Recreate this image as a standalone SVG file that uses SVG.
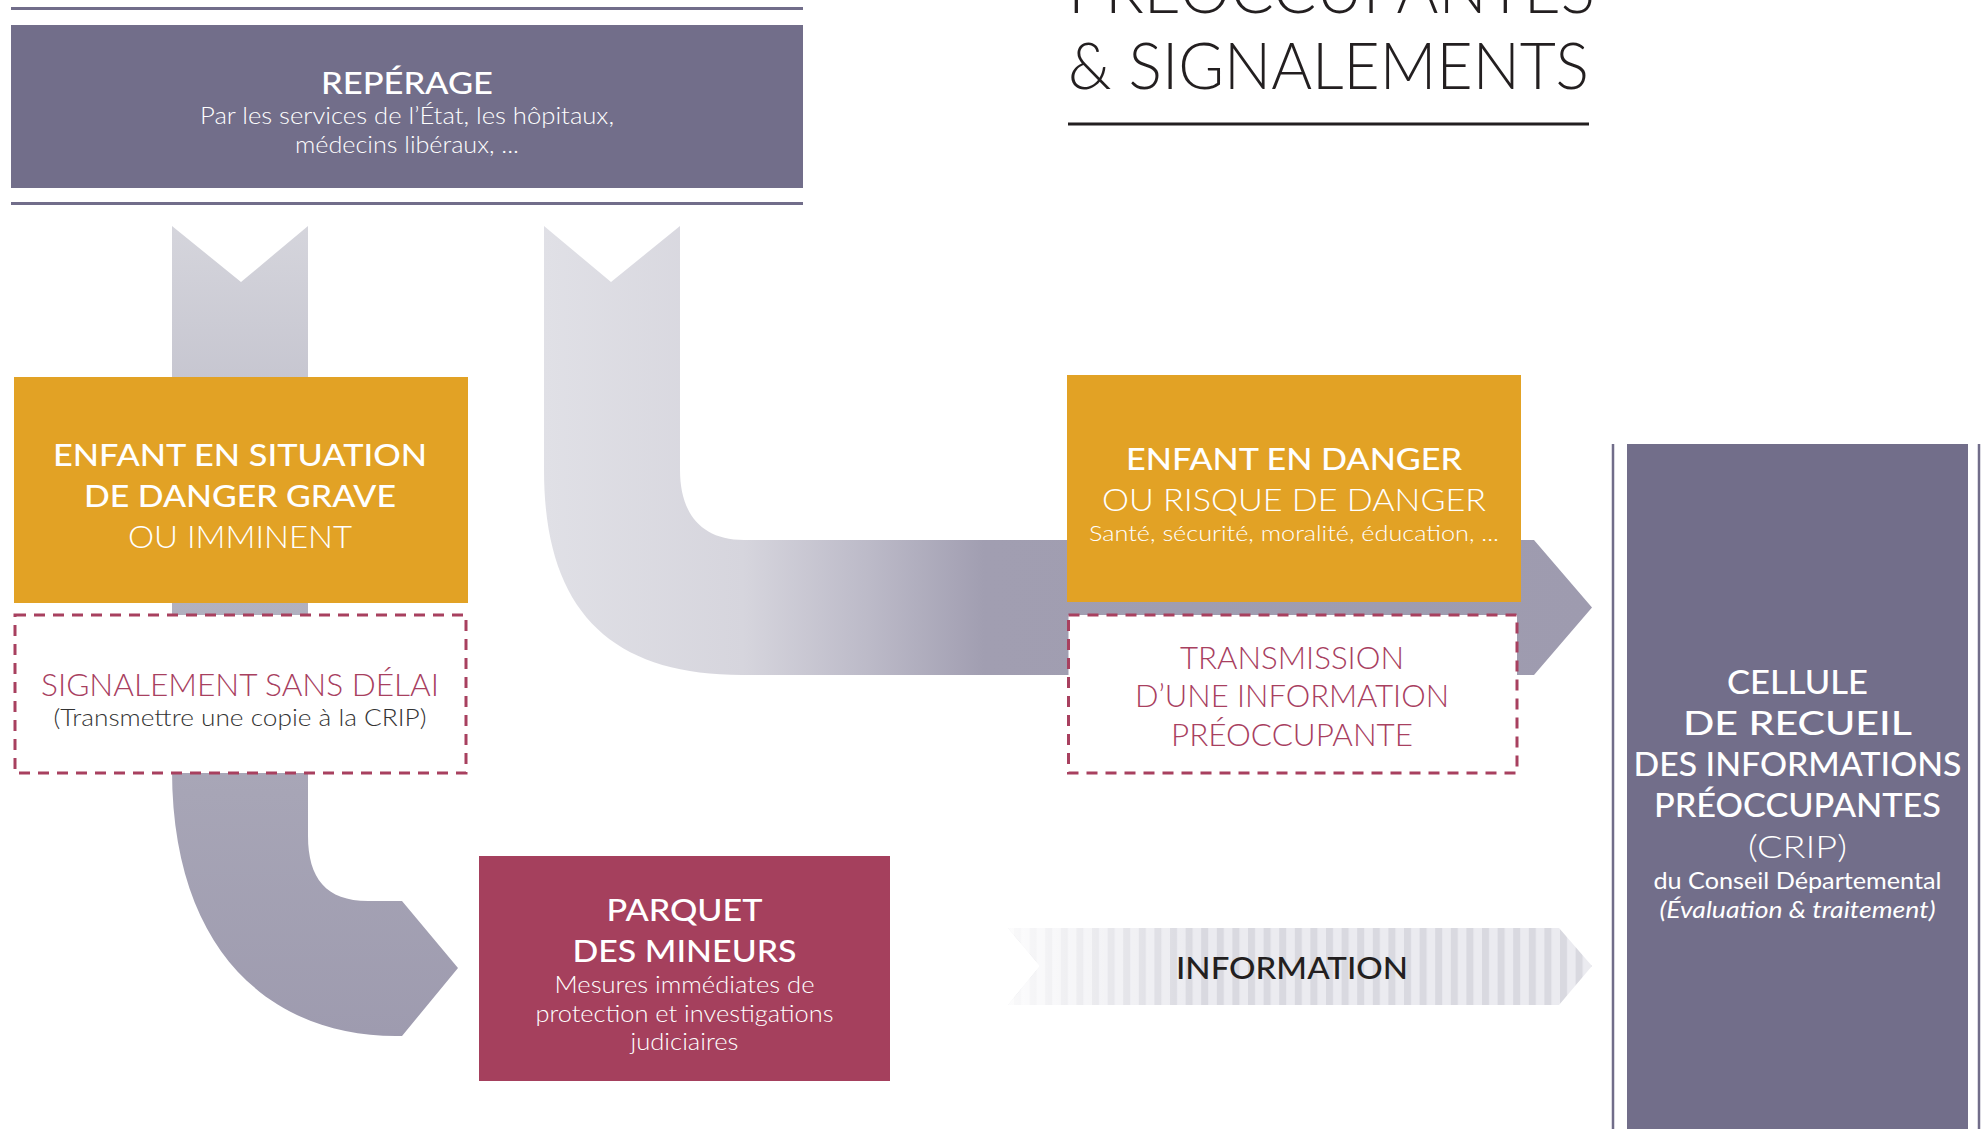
<svg xmlns="http://www.w3.org/2000/svg" width="1988" height="1129" viewBox="0 0 1988 1129">
<defs>
<style>
.t{font-family:Lato,"Liberation Sans",sans-serif;text-anchor:middle}
.w{fill:#fff}
.b{font-weight:500}
.m{font-weight:500}
.l{font-weight:300}
.r{fill:#a8405f}
.h31{font-size:31px}
.h23{font-size:23px}
.dash{fill:#fff;stroke:#a8405f;stroke-width:3;stroke-dasharray:11 8}
.rule{stroke:#716d8a;stroke-width:3}
</style>
<linearGradient id="gLeft" gradientUnits="userSpaceOnUse" x1="0" y1="226" x2="0" y2="1036">
<stop offset="0" stop-color="#d5d5dc"/>
<stop offset="0.46" stop-color="#b2b1c0"/>
<stop offset="0.7" stop-color="#a7a5b6"/>
<stop offset="1" stop-color="#9e9baf"/>
</linearGradient>
<linearGradient id="gMid" gradientUnits="userSpaceOnUse" x1="544" y1="0" x2="1592" y2="0">
<stop offset="0" stop-color="#e0e0e6"/>
<stop offset="0.19" stop-color="#d6d5dd"/>
<stop offset="0.31" stop-color="#bcbac8"/>
<stop offset="0.42" stop-color="#a19eb1"/>
<stop offset="1" stop-color="#9e9baf"/>
</linearGradient>
<pattern id="stripes" patternUnits="userSpaceOnUse" x="0" y="0" width="15.6" height="10">
<rect width="15.6" height="10" fill="#ebebf0"/>
<rect width="7" height="10" fill="#d9d9e0"/>
</pattern>
<linearGradient id="fade" gradientUnits="userSpaceOnUse" x1="1008" y1="0" x2="1200" y2="0">
<stop offset="0" stop-color="#fff" stop-opacity="0.85"/>
<stop offset="1" stop-color="#fff" stop-opacity="0"/>
</linearGradient>
</defs>
<rect width="1988" height="1129" fill="#fff"/>

<g id="title">
<text class="t l" x="1068" y="13" font-size="66" fill="#231f20" style="text-anchor:start" textLength="527" lengthAdjust="spacingAndGlyphs">PRÉOCCUPANTES</text>
<text class="t l" x="1068" y="89" font-size="66" fill="#231f20" style="text-anchor:start" textLength="521" lengthAdjust="spacingAndGlyphs">&amp; SIGNALEMENTS</text>
<line x1="1068" y1="124" x2="1589" y2="124" stroke="#231f20" stroke-width="3"/>
</g>

<g id="connectors">
<path id="arrow-left" fill="url(#gLeft)" d="M172,226 L241,282 L308,226 L308,836 C308,878 326,901 368,901 L402,901 L458,968 L402,1036 L396,1036 C270,1036 172,950 172,770 Z"/>
<path id="arrow-mid" fill="url(#gMid)" d="M544,226 L611,282 L680,226 L680,470 C680,512 700,540 744,540 L1534,540 L1592,607.5 L1534,675 L742,675 C610,675 544,610 544,470 Z"/>
<g id="arrow-information">
<path fill="url(#stripes)" d="M1008,928 L1559,928 L1592,966 L1559,1005 L1008,1005 L1040,966 Z"/>
<path fill="url(#fade)" d="M1008,928 L1559,928 L1592,966 L1559,1005 L1008,1005 L1040,966 Z"/>
<text class="t m h31" x="1292" y="979" fill="#231f20" textLength="232" lengthAdjust="spacingAndGlyphs">INFORMATION</text>
</g>
</g>

<g id="reperage">
<line class="rule" x1="11" y1="8.5" x2="803" y2="8.5"/>
<rect x="11" y="25" width="792" height="163" fill="#726e8a"/>
<line class="rule" x1="11" y1="203.5" x2="803" y2="203.5"/>
<text class="t w m h31" x="407" y="94" textLength="172" lengthAdjust="spacingAndGlyphs">REPÉRAGE</text>
<text class="t w l h23" x="407" y="124" textLength="414" lengthAdjust="spacingAndGlyphs">Par les services de l’État, les hôpitaux,</text>
<text class="t w l h23" x="407" y="153" textLength="224" lengthAdjust="spacingAndGlyphs">médecins libéraux, ...</text>
</g>

<g id="danger-grave">
<rect x="14" y="377" width="454" height="226" fill="#e2a225"/>
<text class="t w b h31" x="240" y="466" textLength="374" lengthAdjust="spacingAndGlyphs">ENFANT EN SITUATION</text>
<text class="t w b h31" x="240" y="507" textLength="312" lengthAdjust="spacingAndGlyphs">DE DANGER GRAVE</text>
<text class="t w l h31" x="240" y="548" textLength="224" lengthAdjust="spacingAndGlyphs">OU IMMINENT</text>
</g>

<g id="signalement">
<rect class="dash" x="15" y="615" width="451" height="158"/>
<text class="t r l h31" x="240" y="696" textLength="398" lengthAdjust="spacingAndGlyphs">SIGNALEMENT SANS DÉLAI</text>
<text class="t l h23" x="240" y="726" fill="#333" textLength="373" lengthAdjust="spacingAndGlyphs">(Transmettre une copie à la CRIP)</text>
</g>

<g id="parquet">
<rect x="479" y="856" width="411" height="225" fill="#a5405d"/>
<text class="t w b h31" x="684.5" y="921" textLength="156" lengthAdjust="spacingAndGlyphs">PARQUET</text>
<text class="t w b h31" x="684.5" y="962" textLength="224" lengthAdjust="spacingAndGlyphs">DES MINEURS</text>
<text class="t w l h23" x="684.5" y="993" textLength="260" lengthAdjust="spacingAndGlyphs">Mesures immédiates de</text>
<text class="t w l h23" x="684.5" y="1022" textLength="298" lengthAdjust="spacingAndGlyphs">protection et investigations</text>
<text class="t w l h23" x="684.5" y="1050" textLength="108" lengthAdjust="spacingAndGlyphs">judiciaires</text>
</g>

<g id="danger">
<rect x="1067" y="375" width="454" height="227" fill="#e2a225"/>
<text class="t w b h31" x="1294" y="470" textLength="336" lengthAdjust="spacingAndGlyphs">ENFANT EN DANGER</text>
<text class="t w l h31" x="1294" y="511" textLength="384" lengthAdjust="spacingAndGlyphs">OU RISQUE DE DANGER</text>
<text class="t w l" x="1294" y="541" font-size="22" textLength="410" lengthAdjust="spacingAndGlyphs">Santé, sécurité, moralité, éducation, ...</text>
</g>

<g id="transmission">
<rect class="dash" x="1068.5" y="615" width="448.5" height="158"/>
<text class="t r l h31" x="1292" y="669" textLength="224" lengthAdjust="spacingAndGlyphs">TRANSMISSION</text>
<text class="t r l h31" x="1292" y="707" textLength="314" lengthAdjust="spacingAndGlyphs">D’UNE INFORMATION</text>
<text class="t r l h31" x="1292" y="746" textLength="242" lengthAdjust="spacingAndGlyphs">PRÉOCCUPANTE</text>
</g>

<g id="crip">
<line x1="1613" y1="444" x2="1613" y2="1129" stroke="#716d8a" stroke-width="2.5"/>
<line x1="1979" y1="444" x2="1979" y2="1129" stroke="#716d8a" stroke-width="2.5"/>
<rect x="1627" y="444" width="341" height="700" fill="#726e8a"/>
<text class="t w b" x="1797.5" y="694" font-size="32" textLength="141" lengthAdjust="spacingAndGlyphs">CELLULE</text>
<text class="t w b" x="1797.5" y="735" font-size="32" textLength="229" lengthAdjust="spacingAndGlyphs">DE RECUEIL</text>
<text class="t w b" x="1797.5" y="776" font-size="32" textLength="328" lengthAdjust="spacingAndGlyphs">DES INFORMATIONS</text>
<text class="t w b" x="1797.5" y="817" font-size="32" textLength="287" lengthAdjust="spacingAndGlyphs">PRÉOCCUPANTES</text>
<text class="t w l" x="1797.5" y="858" font-size="32" textLength="99" lengthAdjust="spacingAndGlyphs">(CRIP)</text>
<text class="t w" x="1797.5" y="889" font-size="23" textLength="288" lengthAdjust="spacingAndGlyphs">du Conseil Départemental</text>
<text class="t w" x="1797.5" y="918" font-size="23" font-style="italic" textLength="276" lengthAdjust="spacingAndGlyphs">(Évaluation &amp; traitement)</text>
</g>
</svg>
